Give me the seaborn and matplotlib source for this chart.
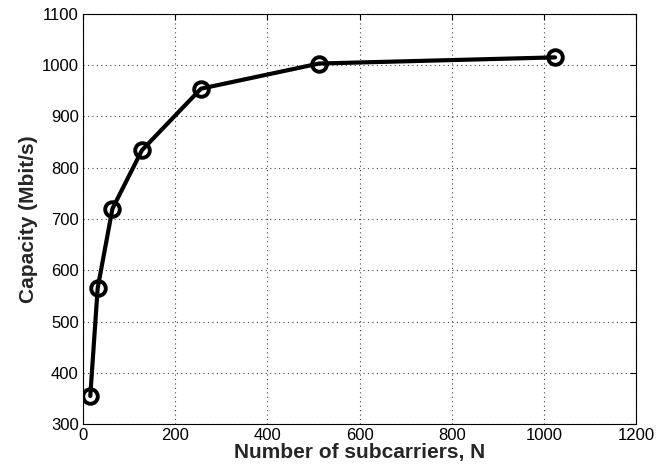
import matplotlib
matplotlib.use("Agg")
import pandas as pd
import seaborn as sns
import matplotlib.pyplot as plt

# Data
subcarriers = [16, 32, 64, 128, 256, 512, 1024]
capacity = [355, 565, 720, 834, 954, 1003, 1015]

df = pd.DataFrame({"N": subcarriers, "capacity": capacity})

sns.set_style("white")
plt.rcParams['font.family'] = ['Liberation Sans', 'DejaVu Sans']

fig = plt.figure(figsize=(6.58, 4.75), dpi=100)
ax = fig.add_axes([0.126, 0.107, 0.841, 0.864])

sns.lineplot(data=df, x="N", y="capacity", ax=ax, color="black", linewidth=3,
             marker="o", markersize=10.5, markerfacecolor="none",
             markeredgecolor="black", markeredgewidth=2.8)

ax.set_xlim(0, 1200)
ax.set_ylim(300, 1100)
ax.set_xticks(range(0, 1201, 200))
ax.set_yticks(range(300, 1101, 100))
ax.grid(True, linestyle=(0, (1, 3)), color="#444444", linewidth=0.8)
ax.tick_params(direction="in", length=4, top=True, right=True,
               labelsize=12, colors="black", pad=3)
for s in ax.spines.values():
    s.set_color("black")
    s.set_linewidth(0.8)

ax.set_xlabel("Number of subcarriers, N", fontsize=15, fontweight="bold", labelpad=0)
ax.set_ylabel("Capacity (Mbit/s)", fontsize=15, fontweight="bold", labelpad=3)

fig.savefig("out.png", dpi=100)
